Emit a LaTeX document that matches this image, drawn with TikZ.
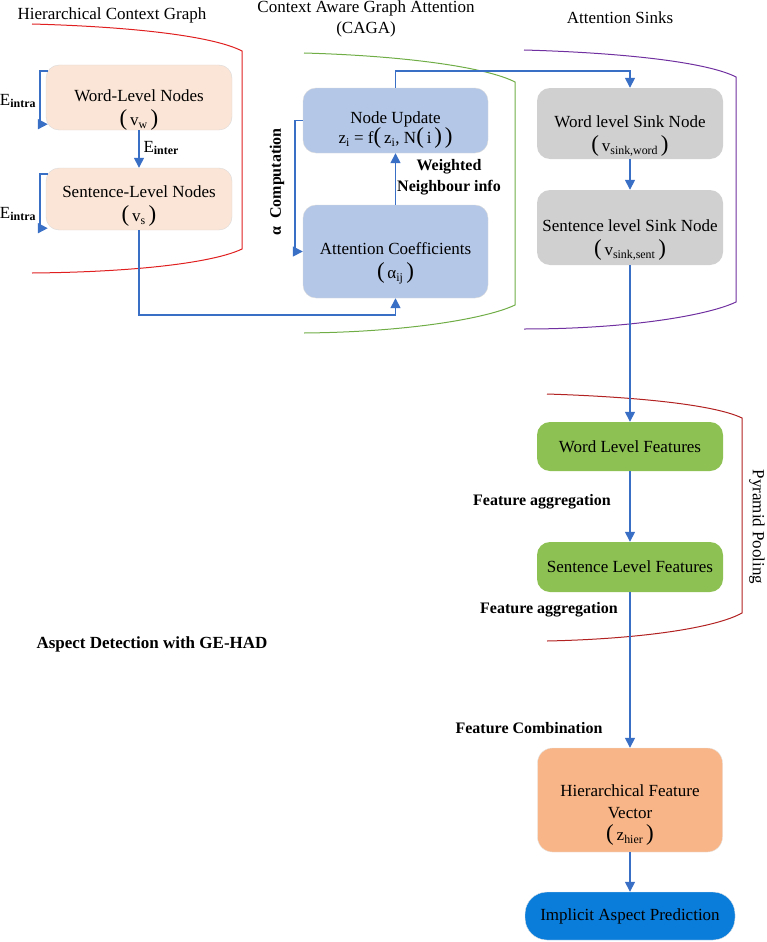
\documentclass[tikz,border=0pt]{standalone}
\usepackage{fontspec}
\setmainfont{Liberation Serif}
\usetikzlibrary{arrows.meta,calc}

\definecolor{peach}{HTML}{FBE5D6}
\definecolor{paleblue}{HTML}{B4C7E7}
\definecolor{sinkgray}{HTML}{D0D0D0}
\definecolor{featgreen}{HTML}{8DC153}
\definecolor{vecorange}{HTML}{F8B587}
\definecolor{predblue}{HTML}{0A7DDB}
\definecolor{flowblue}{HTML}{3A6FC6}
\definecolor{hcgred}{HTML}{E02020}
\definecolor{cagagreen}{HTML}{70AD47}
\definecolor{sinkpurple}{HTML}{7030A0}
\definecolor{poolred}{HTML}{B22222}

% big round brackets around a term
\newcommand{\bp}[1]{{\fontsize{23}{23}\selectfont(}\,#1\,{\fontsize{23}{23}\selectfont)}}

\tikzset{
  box/.style={rectangle, rounded corners=13pt, draw=black!15, inner sep=0pt, minimum width=186pt},
  txt/.style={align=center, font=\fontsize{17}{24}\selectfont},
  lbl/.style={align=center, font=\fontsize{16}{21}\selectfont\bfseries},
  flow/.style={draw=flowblue, line width=1.5pt, -{Triangle[length=10pt,width=10pt]}},
  wall/.style={line width=1pt}
}

\begin{document}
\begin{tikzpicture}[x=1pt,y=-1pt]
\useasboundingbox (0,0) rectangle (767,942);

% Group outlines
\draw[wall, hcgred] (32,24) .. controls (140,27) and (215,37) .. (242,51) -- (242,249)
  .. controls (215,262) and (140,272) .. (32,273);
\draw[wall, cagagreen] (304,53) .. controls (410,56) and (488,68) .. (515,82) -- (515,305)
  .. controls (488,318) and (410,332) .. (304,333);
\draw[wall, sinkpurple] (524,50) .. controls (630,53) and (709,63) .. (736,77) -- (736,302)
  .. controls (709,315) and (630,329) .. (524,329);
\draw[wall, poolred] (547,394) .. controls (640,397) and (715,405) .. (742,418) -- (742,613)
  .. controls (715,628) and (640,639) .. (547,641);

% Titles
\node[txt] (t-hcg) at (112,15) {Hierarchical Context Graph};
\node[txt, font=\fontsize{17}{21}\selectfont] (t-caga) at (366,19) {Context Aware Graph Attention\\(CAGA)};
\node[txt] (t-sink) at (620,18) {Attention Sinks};
\node[txt, rotate=-90] (t-pool) at (757,527) {Pyramid Pooling};
\node[lbl, font=\fontsize{17}{21}\selectfont\bfseries] (t-ged) at (152,644) {Aspect Detection with GE-HAD};

% Hierarchical context graph
\node[box, fill=peach, minimum height=65pt] (wl) at (139,97.5) {};
\node[txt] (wl-t) at (139,110) {Word-Level Nodes\\\bp{v\textsubscript{w}}};
\node[box, fill=peach, minimum height=62pt] (sl) at (139,199) {};
\node[txt] (sl-t) at (139,206) {Sentence-Level Nodes\\\bp{v\textsubscript{s}}};

% CAGA
\node[box, fill=paleblue, minimum width=185pt, minimum height=65pt] (nu) at (395.5,120.5) {};
\node[txt, font=\fontsize{17}{20}\selectfont] (nu-t) at (395.5,130) {Node Update\\z\textsubscript{i} = f\bp{z\textsubscript{i}, N\bp{i}}};
\node[box, fill=paleblue, minimum width=185pt, minimum height=93pt] (ac) at (395.5,251.5) {};
\node[txt] (ac-t) at (395.5,263) {Attention Coefficients\\\bp{α\textsubscript{ij}}};

% Attention sinks
\node[box, fill=sinkgray, draw=none, minimum height=71pt] (ws) at (630,123.5) {};
\node[txt] (ws-t) at (630,136) {Word level Sink Node\\\bp{v\textsubscript{sink,word}}};
\node[box, fill=sinkgray, draw=none, minimum height=75pt] (ss) at (630,227.5) {};
\node[txt] (ss-t) at (630,240) {Sentence level Sink Node\\\bp{v\textsubscript{sink,sent}}};

% Pyramid pooling and output
\node[box, fill=featgreen, draw=none, minimum height=49pt, txt] (wf) at (630,446.5) {Word Level Features};
\node[box, fill=featgreen, draw=none, minimum height=50pt, txt] (sf) at (630,567) {Sentence Level Features};
\node[box, fill=vecorange, draw=black!10, minimum width=185pt, minimum height=104pt, rounded corners=15pt] (hv) at (630,800) {};
\node[txt, font=\fontsize{17}{22}\selectfont] (hv-t) at (630,815) {Hierarchical Feature\\Vector\\\bp{z\textsubscript{hier}}};
\node[box, fill=predblue, draw=black!10, minimum width=210pt, minimum height=48pt, rounded corners=22pt, txt] (ip) at (630,916) {Implicit Aspect Prediction};

% Connectors
\draw[flow] ([xshift=2pt,yshift=-6pt]wl.north west) -- ++(-8,0) |- ([xshift=2pt,yshift=6pt]wl.south west);
\draw[flow] ([xshift=2pt,yshift=-6pt]sl.north west) -- ++(-8,0) |- ([xshift=2pt,yshift=2pt]sl.south west);
\draw[flow] (wl.south) -- (sl.north);
\draw[flow] (sl.south) -- ++(0,85) -| (ac.south);
\draw[flow] (ac.north) -- (nu.south);
\draw[flow] (nu.west) -- ++(-8,0) |- (ac.west);
\draw[flow] (nu.north) -- ++(0,-17) -| (ws.north);
\draw[flow] (ws.south) -- (ss.north);
\draw[flow] (ss.south) -- (wf.north);
\draw[flow] (wf.south) -- (sf.north);
\draw[flow] (sf.south) -- (hv.north);
\draw[flow] (hv.south) -- (ip.north);

% Edge labels
\node[txt] (l-intra1) at (18,101) {E\textsubscript{\bfseries intra}};
\node[txt] (l-intra2) at (18,214) {E\textsubscript{\bfseries intra}};
\node[txt, anchor=west] (l-inter) at (140,148) {E\textsubscript{\bfseries inter}};
\node[lbl] (l-weight) at (449,177) {Weighted\\Neighbour info};
\node[lbl, rotate=90] (l-alpha) at (277,182) {α\ \ Computation};
\node[lbl] (l-agg1) at (542,502) {Feature aggregation};
\node[lbl] (l-agg2) at (549,610) {Feature aggregation};
\node[lbl] (l-comb) at (529,728) {Feature Combination};

\end{tikzpicture}
\end{document}
